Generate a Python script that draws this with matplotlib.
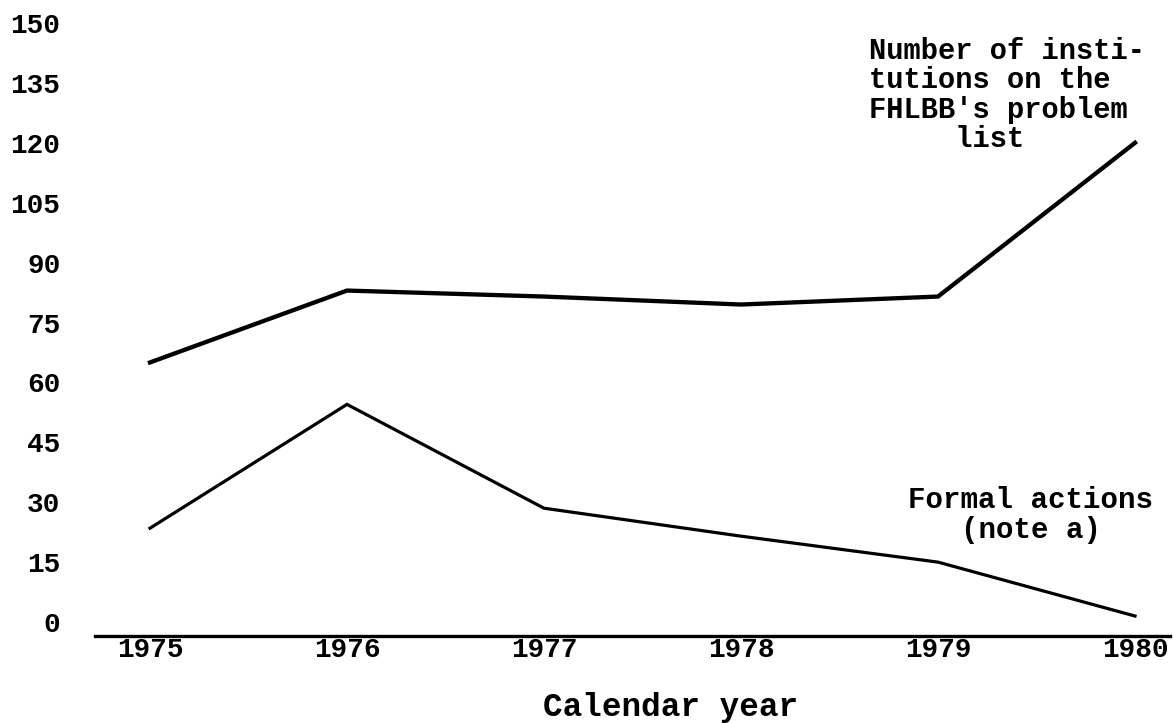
import matplotlib
matplotlib.use("Agg")
from matplotlib import pyplot as plt

# values
years = [1975, 1976, 1977, 1978, 1979, 1980]
problem_list = [65, 83, 81.5, 79.5, 81.5, 120]
formal_actions = [23.5, 54.5, 28.5, 21.5, 15, 1.5]
y_ticks = list(range(0, 151, 15))

plt.rcParams['font.family'] = ['Liberation Mono', 'DejaVu Sans Mono']
plt.rcParams['font.weight'] = 'bold'

fig = plt.figure(figsize=(11.73, 7.23), dpi=100)
ax = fig.add_axes([95/1173, 1-636/723, 1075/1173, 621/723])

ax.plot(years, problem_list, color='black', lw=3.1, solid_joinstyle='miter')
ax.plot(years, formal_actions, color='black', lw=2.3, solid_joinstyle='miter')

ax.set_xlim(1975 - 55/197, 1980 + 35/197)
ax.set_ylim(-3.5, 152)

for s in ['top', 'right', 'left']:
  ax.spines[s].set_visible(False)
ax.spines['bottom'].set_linewidth(2.4)

ax.set_xticks(years)
ax.set_xticklabels([str(y) for y in years], fontsize=20, fontweight='bold')
ax.set_yticks(y_ticks)
ax.set_yticklabels([str(v) for v in y_ticks], fontsize=20, fontweight='bold')
ax.tick_params(axis='x', length=0, pad=1)
ax.tick_params(axis='y', length=0, pad=25)

ax.set_xlabel("Calendar year", fontsize=23.5, fontweight='bold')
ax.xaxis.set_label_coords((671-95)/1075, (636-692)/621)

ax.text(1978.65, 132.0, "Number of insti-\ntutions on the\nFHLBB's problem\n     list",
        fontsize=20.7, fontweight='bold', ha='left', va='center', linespacing=1.07)
ax.text(1979.47, 26.8, "Formal actions\n(note a)", fontsize=21, fontweight='bold',
        ha='center', va='center', multialignment='center', linespacing=1.1)

fig.savefig("out.png", dpi=100)
